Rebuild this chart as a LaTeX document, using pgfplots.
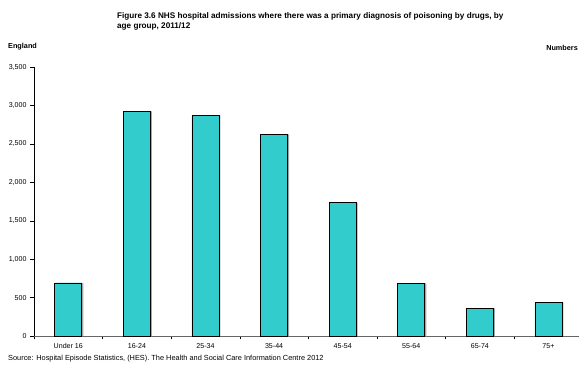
\documentclass[border=0pt]{standalone}
\usepackage{pgfplots}
\pgfplotsset{compat=1.18}
\usepackage{fontspec}
\setmainfont{Liberation Sans}
\definecolor{barfill}{HTML}{33CCCC}

\begin{document}
\begin{tikzpicture}[x=1bp,y=1bp]
\useasboundingbox (0,0) rectangle (579,367);
% titles and notes
\node[anchor=north west, align=left, font=\bfseries\fontsize{8.2}{10.6}\selectfont, inner sep=0]
  at (117,355) {Figure 3.6 NHS hospital admissions where there was a primary diagnosis of poisoning by drugs, by\\age group, 2011/12};
\node[anchor=west, font=\bfseries\fontsize{7.3}{8}\selectfont, inner sep=0] at (8,320) {England};
\node[anchor=east, font=\bfseries\fontsize{7.3}{8}\selectfont, inner sep=0] at (578,319) {Numbers};
\node[anchor=west, font=\fontsize{7.4}{9}\selectfont, inner sep=0] at (8,8) {Source: Hospital Episode Statistics, (HES). The Health and Social Care Information Centre 2012};

\begin{axis}[
  at={(34bp,31bp)}, anchor=south west,
  scale only axis, width=545bp, height=269bp,
  xmin=-0.5, xmax=7.445, ymin=0, ymax=3500,
  axis x line*=bottom, axis y line*=left,
  x axis line style={gray!80!black, -},
  y axis line style={black, -},
  xtick={0,...,7},
  xticklabels={Under 16,16-24,25-34,35-44,45-54,55-64,65-74,75+},
  minor xtick={-0.5,0.5,...,7.5},
  major x tick style={draw=none},
  minor x tick style={black},
  minor tick length=3bp,
  ytick={0,500,...,3500},
  major y tick style={black},
  major tick length=4bp,
  tick align=outside,
  ticklabel style={font=\fontsize{7.1}{8}\selectfont},
  /pgf/number format/1000 sep={,},
  /pgf/number format/assume math mode=true,
  ybar, bar width=27bp,
  clip=false,
]
% soft shadow on each bar
\addplot[fill=gray!70, draw=none, bar shift=1.5bp] coordinates {
  (0,690) (1,2923) (2,2872) (3,2624) (4,1734) (5,686) (6,360) (7,438)};
\addplot[fill=barfill, draw=black, line width=0.8bp, bar shift=0bp] coordinates {
  (0,690) (1,2923) (2,2872) (3,2624) (4,1734) (5,686) (6,360) (7,438)};
\end{axis}
\end{tikzpicture}
\end{document}
